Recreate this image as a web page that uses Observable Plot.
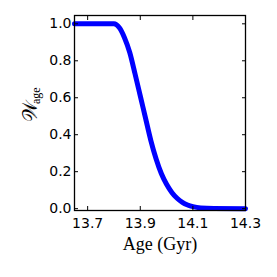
<!DOCTYPE html>
<html>
<head>
<meta charset="utf-8">
<script src="https://cdn.jsdelivr.net/npm/d3@7"></script>
<script src="https://cdn.jsdelivr.net/npm/@observablehq/plot@0.6"></script>
<style>
html, body { margin: 0; padding: 0; background: white; }
</style>
</head>
<body>
<div id="chart"></div>
<script>
const ages    = [13.65, 13.80, 13.82, 13.84, 13.86, 13.88, 13.90, 13.92, 13.94, 13.96, 13.98, 14.00, 14.02, 14.04, 14.06, 14.08, 14.10, 14.13, 14.18, 14.30];
const weights = [1.0,   1.0,   0.98,  0.925, 0.845, 0.73,  0.61,  0.49,  0.37,  0.27,  0.19,  0.132, 0.088, 0.056, 0.034, 0.02,  0.011, 0.004, 0.001, 0.0];
const xTicks = [13.7, 13.9, 14.1, 14.3];
const yTicks = [0.0, 0.2, 0.4, 0.6, 0.8, 1.0];
const xLabel = "Age (Gyr)";
const yLabelMain = "𝒲";
const yLabelSub = "age";

const data = ages.map((a, i) => ({age: a, w: weights[i]}));
const fmt = d3.format(".1f");
const blank = () => "";

const chart = Plot.plot({
  width: 277,
  height: 277,
  marginLeft: 74,
  marginRight: 32,
  marginTop: 15,
  marginBottom: 67,
  x: {domain: [13.65, 14.3]},
  y: {domain: [-0.01, 1.045]},
  style: {fontFamily: "DejaVu Sans", fontSize: "14px", background: "white", color: "black"},
  marks: [
    Plot.line(data, {x: "age", y: "w", stroke: "#0000ff", strokeWidth: 5, curve: "monotone-x"}),
    Plot.axisX(xTicks, {anchor: "bottom", tickSize: 0, tickPadding: 8, tickFormat: fmt, label: null, fontSize: 14}),
    Plot.axisY(yTicks, {anchor: "left", tickSize: 0, tickPadding: 3, tickFormat: fmt, label: null, fontSize: 14}),
    Plot.axisX(xTicks, {anchor: "bottom", tickSize: -4, tickFormat: blank, label: null}),
    Plot.axisX(xTicks, {anchor: "top", tickSize: -4, tickFormat: blank, label: null}),
    Plot.axisY(yTicks, {anchor: "left", tickSize: -4, tickFormat: blank, label: null}),
    Plot.axisY(yTicks, {anchor: "right", tickSize: -4, tickFormat: blank, label: null}),
    Plot.frame({stroke: "black", strokeWidth: 1.3}),
    Plot.text([xLabel], {frameAnchor: "bottom", text: d => d, dy: 34, lineAnchor: "middle", fontFamily: "Liberation Serif", fontSize: 18}),
    Plot.text([yLabelMain], {frameAnchor: "left", text: d => d, rotate: -90, dx: -44, dy: 9, lineAnchor: "middle", fontFamily: "DejaVu Serif", fontSize: 20}),
    Plot.text([yLabelSub], {frameAnchor: "left", text: d => d, rotate: -90, dx: -38, dy: -9, lineAnchor: "middle", fontFamily: "Liberation Serif", fontSize: 12})
  ]
});
document.getElementById("chart").appendChild(chart);
</script>
</body>
</html>
